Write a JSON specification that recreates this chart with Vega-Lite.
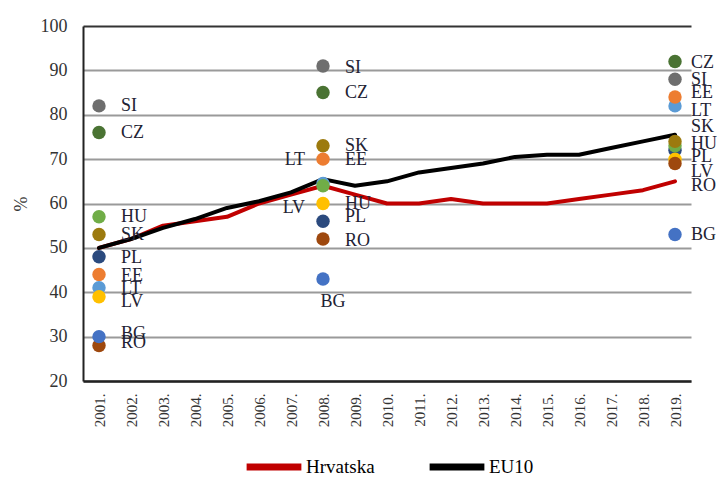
{
  "$schema": "https://vega.github.io/schema/vega-lite/v6.json",
  "width": 608,
  "height": 355,
  "autosize": {"type": "none"},
  "padding": {"left": 83, "top": 26, "right": 26, "bottom": 97},
  "background": "white",
  "config": {
    "view": {"stroke": null},
    "font": "Liberation Serif",
    "legend": {"labelFont": "Liberation Serif, Times New Roman, serif", "labelFontSize": 19, "labelColor": "#000000"}
  },
  "datasets": {
    "lines": [
      {"year": "2001", "series": "Hrvatska", "value": 50},
      {"year": "2002", "series": "Hrvatska", "value": 52},
      {"year": "2003", "series": "Hrvatska", "value": 55},
      {"year": "2004", "series": "Hrvatska", "value": 56},
      {"year": "2005", "series": "Hrvatska", "value": 57},
      {"year": "2006", "series": "Hrvatska", "value": 60},
      {"year": "2007", "series": "Hrvatska", "value": 62},
      {"year": "2008", "series": "Hrvatska", "value": 64},
      {"year": "2009", "series": "Hrvatska", "value": 62},
      {"year": "2010", "series": "Hrvatska", "value": 60},
      {"year": "2011", "series": "Hrvatska", "value": 60},
      {"year": "2012", "series": "Hrvatska", "value": 61},
      {"year": "2013", "series": "Hrvatska", "value": 60},
      {"year": "2014", "series": "Hrvatska", "value": 60},
      {"year": "2015", "series": "Hrvatska", "value": 60},
      {"year": "2016", "series": "Hrvatska", "value": 61},
      {"year": "2017", "series": "Hrvatska", "value": 62},
      {"year": "2018", "series": "Hrvatska", "value": 63},
      {"year": "2019", "series": "Hrvatska", "value": 65},
      {"year": "2001", "series": "EU10", "value": 50},
      {"year": "2002", "series": "EU10", "value": 52},
      {"year": "2003", "series": "EU10", "value": 54.5},
      {"year": "2004", "series": "EU10", "value": 56.5},
      {"year": "2005", "series": "EU10", "value": 59},
      {"year": "2006", "series": "EU10", "value": 60.5},
      {"year": "2007", "series": "EU10", "value": 62.5},
      {"year": "2008", "series": "EU10", "value": 65.5},
      {"year": "2009", "series": "EU10", "value": 64},
      {"year": "2010", "series": "EU10", "value": 65},
      {"year": "2011", "series": "EU10", "value": 67},
      {"year": "2012", "series": "EU10", "value": 68},
      {"year": "2013", "series": "EU10", "value": 69},
      {"year": "2014", "series": "EU10", "value": 70.5},
      {"year": "2015", "series": "EU10", "value": 71},
      {"year": "2016", "series": "EU10", "value": 71},
      {"year": "2017", "series": "EU10", "value": 72.5},
      {"year": "2018", "series": "EU10", "value": 74},
      {"year": "2019", "series": "EU10", "value": 75.5}
    ],
    "points": [
      {"year": "2001", "country": "SI", "value": 82, "labelValue": 82, "side": "right"},
      {"year": "2001", "country": "CZ", "value": 76, "labelValue": 76, "side": "right"},
      {"year": "2001", "country": "HU", "value": 57, "labelValue": 57, "side": "right"},
      {"year": "2001", "country": "SK", "value": 53, "labelValue": 53, "side": "right"},
      {"year": "2001", "country": "PL", "value": 48, "labelValue": 47.7, "side": "right"},
      {"year": "2001", "country": "EE", "value": 44, "labelValue": 43.6, "side": "right"},
      {"year": "2001", "country": "LT", "value": 41, "labelValue": 40.8, "side": "right"},
      {"year": "2001", "country": "LV", "value": 39, "labelValue": 37.9, "side": "right"},
      {"year": "2001", "country": "RO", "value": 28, "labelValue": 28.5, "side": "right"},
      {"year": "2001", "country": "BG", "value": 30, "labelValue": 30.5, "side": "right"},
      {"year": "2008", "country": "SI", "value": 91, "labelValue": 90.5, "side": "right"},
      {"year": "2008", "country": "CZ", "value": 85, "labelValue": 84.9, "side": "right"},
      {"year": "2008", "country": "SK", "value": 73, "labelValue": 73, "side": "right"},
      {"year": "2008", "country": "EE", "value": 70, "labelValue": 69.7, "side": "right"},
      {"year": "2008", "country": "LT", "value": 64.5, "labelValue": 69.8, "side": "left"},
      {"year": "2008", "country": "HU", "value": 64, "labelValue": 60, "side": "right"},
      {"year": "2008", "country": "LV", "value": 60, "labelValue": 59, "side": "left"},
      {"year": "2008", "country": "PL", "value": 56, "labelValue": 57, "side": "right"},
      {"year": "2008", "country": "RO", "value": 52, "labelValue": 51.5, "side": "right"},
      {"year": "2008", "country": "BG", "value": 43, "labelValue": 37.8, "side": "below"},
      {"year": "2019", "country": "PL", "value": 72, "labelValue": 70.5, "side": "right"},
      {"year": "2019", "country": "LV", "value": 70, "labelValue": 67, "side": "right"},
      {"year": "2019", "country": "HU", "value": 73, "labelValue": 73.4, "side": "right"},
      {"year": "2019", "country": "CZ", "value": 92, "labelValue": 91.6, "side": "right"},
      {"year": "2019", "country": "SI", "value": 88, "labelValue": 87.8, "side": "right"},
      {"year": "2019", "country": "LT", "value": 82, "labelValue": 80.8, "side": "right"},
      {"year": "2019", "country": "EE", "value": 84, "labelValue": 85, "side": "right"},
      {"year": "2019", "country": "SK", "value": 74, "labelValue": 77.2, "side": "right"},
      {"year": "2019", "country": "RO", "value": 69, "labelValue": 64, "side": "right"},
      {"year": "2019", "country": "BG", "value": 53, "labelValue": 53, "side": "right"}
    ]
  },
  "layer": [
    {
      "data": {"name": "lines"},
      "mark": {"type": "line", "strokeWidth": 4, "strokeCap": "round", "strokeJoin": "round"},
      "encoding": {
        "x": {
          "field": "year", "type": "ordinal",
          "scale": {"type": "point", "padding": 0.5},
          "axis": {
            "title": null, "labelAngle": -90, "labelExpr": "datum.label + '.'",
            "labelFont": "Liberation Serif", "labelFontSize": 15, "labelColor": "#333333",
            "ticks": false, "grid": false, "domainColor": "#222222", "domainWidth": 2.5,
            "labelPadding": 12
          }
        },
        "y": {
          "field": "value", "type": "quantitative",
          "scale": {"domain": [20, 100], "nice": false, "zero": false},
          "axis": {
            "values": [20, 30, 40, 50, 60, 70, 80, 90, 100],
            "title": "%", "titleFont": "Liberation Serif", "titleFontSize": 18,
            "titleFontWeight": "normal", "titleColor": "#333333", "titlePadding": 10,
            "labelFont": "Liberation Serif", "labelFontSize": 18, "labelColor": "#333333",
            "labelPadding": 16, "ticks": false,
            "grid": true,
            "gridColor": {"condition": {"test": "datum.value == 100", "value": "#333333"}, "value": "#9a9a9a"},
            "gridWidth": 1.8,
            "domainColor": "#222222", "domainWidth": 2
          }
        },
        "color": {
          "field": "series", "type": "nominal",
          "scale": {"domain": ["Hrvatska", "EU10"], "range": ["#c00000", "#000000"]},
          "legend": {
            "title": null, "orient": "none", "legendX": 160, "legendY": 410, "padding": 0,
            "direction": "horizontal", "symbolType": "stroke", "symbolStrokeWidth": 7,
            "symbolSize": 3000, "labelFont": "Liberation Serif, Times New Roman, serif", "labelFontSize": 19,
            "labelColor": "#000000", "columnPadding": 40, "labelOffset": 1
          }
        },
        "order": {"field": "series", "sort": "descending"}
      }
    },
    {
      "data": {"name": "points"},
      "mark": {"type": "circle", "size": 180, "opacity": 1},
      "encoding": {
        "x": {"field": "year", "type": "ordinal"},
        "y": {"field": "value", "type": "quantitative"},
        "color": {
          "field": "country", "type": "nominal",
          "scale": {
            "domain": ["SI", "CZ", "HU", "SK", "PL", "EE", "LT", "LV", "BG", "RO"],
            "range": ["#6e6e6e", "#4a7333", "#70ad47", "#9c7a0e", "#2b4a7e", "#ed7d31", "#5b9bd5", "#ffc000", "#4472c4", "#9e480e"]
          },
          "legend": null
        }
      }
    },
    {
      "data": {"name": "points"},
      "transform": [{"filter": "datum.side == 'right' && datum.year != '2019'"}],
      "mark": {"type": "text", "align": "left", "baseline": "middle", "dx": 22, "font": "Liberation Serif", "fontSize": 18, "color": "#222233"},
      "encoding": {
        "x": {"field": "year", "type": "ordinal"},
        "y": {"field": "labelValue", "type": "quantitative"},
        "text": {"field": "country"}
      }
    },
    {
      "data": {"name": "points"},
      "transform": [{"filter": "datum.side == 'right' && datum.year == '2019'"}],
      "mark": {"type": "text", "align": "left", "baseline": "middle", "dx": 16, "font": "Liberation Serif", "fontSize": 18, "color": "#222233"},
      "encoding": {
        "x": {"field": "year", "type": "ordinal"},
        "y": {"field": "labelValue", "type": "quantitative"},
        "text": {"field": "country"}
      }
    },
    {
      "data": {"name": "points"},
      "transform": [{"filter": "datum.side == 'left'"}],
      "mark": {"type": "text", "align": "right", "baseline": "middle", "dx": -18, "font": "Liberation Serif", "fontSize": 18, "color": "#222233"},
      "encoding": {
        "x": {"field": "year", "type": "ordinal"},
        "y": {"field": "labelValue", "type": "quantitative"},
        "text": {"field": "country"}
      }
    },
    {
      "data": {"name": "points"},
      "transform": [{"filter": "datum.side == 'below'"}],
      "mark": {"type": "text", "align": "center", "baseline": "middle", "dx": 10, "font": "Liberation Serif", "fontSize": 18, "color": "#222233"},
      "encoding": {
        "x": {"field": "year", "type": "ordinal"},
        "y": {"field": "labelValue", "type": "quantitative"},
        "text": {"field": "country"}
      }
    }
  ],
  "resolve": {"scale": {"color": "independent"}}
}
